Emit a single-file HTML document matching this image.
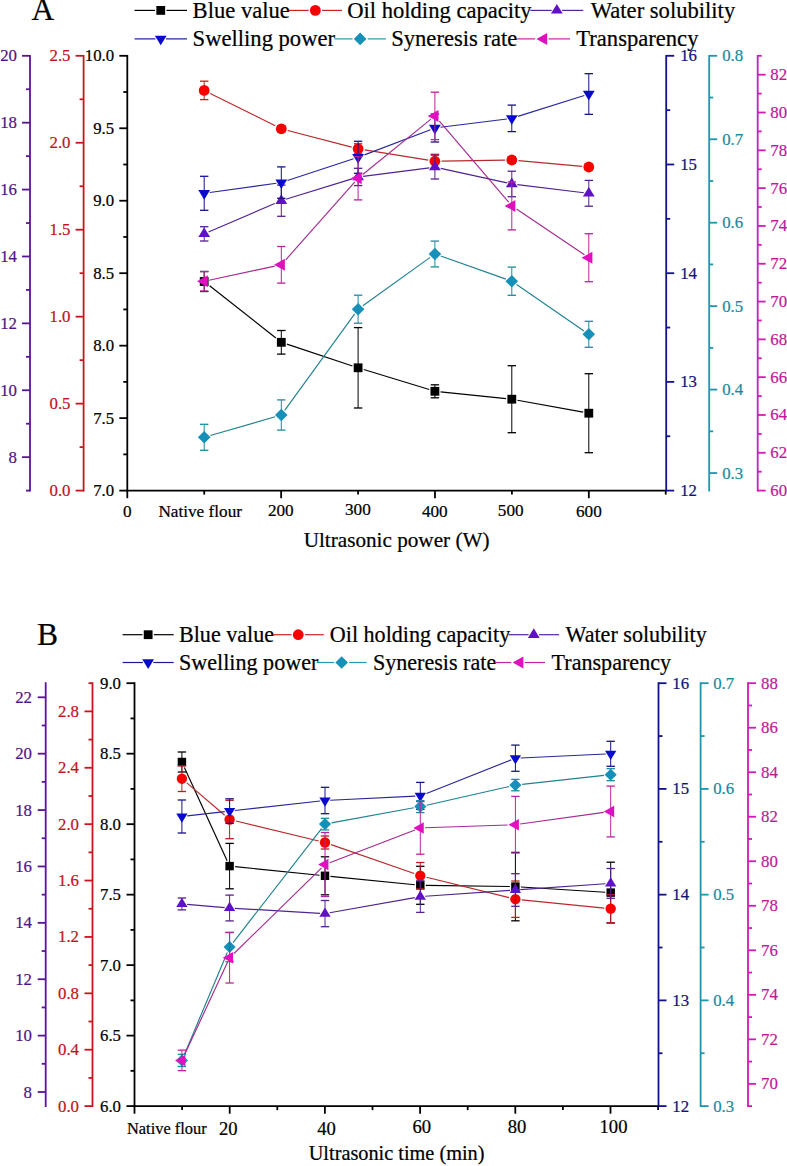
<!DOCTYPE html>
<html><head><meta charset="utf-8"><style>
html,body{margin:0;padding:0;background:#fff;width:787px;height:1166px;overflow:hidden;position:relative;}
text{font-family:"Liberation Serif",serif;}
</style></head><body>
<svg width="787" height="1166" viewBox="0 0 787 1166" style="position:absolute;left:0;top:0">
<g style='font-family:"Liberation Serif", serif'>
<line x1="126.40" y1="490.60" x2="666.64" y2="490.60" stroke="#000" stroke-width="1.8"/>
<line x1="127.30" y1="490.60" x2="127.30" y2="498.20" stroke="#000" stroke-width="1.8"/>
<line x1="281.14" y1="490.60" x2="281.14" y2="498.20" stroke="#000" stroke-width="1.8"/>
<line x1="434.98" y1="490.60" x2="434.98" y2="498.20" stroke="#000" stroke-width="1.8"/>
<line x1="588.82" y1="490.60" x2="588.82" y2="498.20" stroke="#000" stroke-width="1.8"/>
<line x1="204.22" y1="490.60" x2="204.22" y2="494.60" stroke="#000" stroke-width="1.8"/>
<line x1="358.06" y1="490.60" x2="358.06" y2="494.60" stroke="#000" stroke-width="1.8"/>
<line x1="511.90" y1="490.60" x2="511.90" y2="494.60" stroke="#000" stroke-width="1.8"/>
<line x1="665.74" y1="490.60" x2="665.74" y2="494.60" stroke="#000" stroke-width="1.8"/>
<text x="127.40" y="517.20" fill="#000" stroke="#000" stroke-width="0.22" font-size="17.2" text-anchor="middle" >0</text>
<text x="280.80" y="516.40" fill="#000" stroke="#000" stroke-width="0.22" font-size="17.2" text-anchor="middle" >200</text>
<text x="357.90" y="514.70" fill="#000" stroke="#000" stroke-width="0.22" font-size="17.2" text-anchor="middle" >300</text>
<text x="434.80" y="516.80" fill="#000" stroke="#000" stroke-width="0.22" font-size="17.2" text-anchor="middle" >400</text>
<text x="510.70" y="516.20" fill="#000" stroke="#000" stroke-width="0.22" font-size="17.2" text-anchor="middle" >500</text>
<text x="588.90" y="516.80" fill="#000" stroke="#000" stroke-width="0.22" font-size="17.2" text-anchor="middle" >600</text>
<text x="200.20" y="517.10" fill="#000" stroke="#000" stroke-width="0.22" font-size="17.2" text-anchor="middle" >Native flour</text>
<text x="396.60" y="547.30" fill="#000" stroke="#000" stroke-width="0.22" font-size="21.2" text-anchor="middle" >Ultrasonic power (W)</text>
<line x1="127.30" y1="54.90" x2="127.30" y2="491.50" stroke="#000000" stroke-width="1.8"/>
<line x1="127.30" y1="490.60" x2="119.30" y2="490.60" stroke="#000000" stroke-width="1.8"/>
<line x1="127.30" y1="418.13" x2="119.30" y2="418.13" stroke="#000000" stroke-width="1.8"/>
<line x1="127.30" y1="345.67" x2="119.30" y2="345.67" stroke="#000000" stroke-width="1.8"/>
<line x1="127.30" y1="273.20" x2="119.30" y2="273.20" stroke="#000000" stroke-width="1.8"/>
<line x1="127.30" y1="200.73" x2="119.30" y2="200.73" stroke="#000000" stroke-width="1.8"/>
<line x1="127.30" y1="128.27" x2="119.30" y2="128.27" stroke="#000000" stroke-width="1.8"/>
<line x1="127.30" y1="55.80" x2="119.30" y2="55.80" stroke="#000000" stroke-width="1.8"/>
<line x1="127.30" y1="454.37" x2="123.30" y2="454.37" stroke="#000000" stroke-width="1.8"/>
<line x1="127.30" y1="381.90" x2="123.30" y2="381.90" stroke="#000000" stroke-width="1.8"/>
<line x1="127.30" y1="309.43" x2="123.30" y2="309.43" stroke="#000000" stroke-width="1.8"/>
<line x1="127.30" y1="236.97" x2="123.30" y2="236.97" stroke="#000000" stroke-width="1.8"/>
<line x1="127.30" y1="164.50" x2="123.30" y2="164.50" stroke="#000000" stroke-width="1.8"/>
<line x1="127.30" y1="92.03" x2="123.30" y2="92.03" stroke="#000000" stroke-width="1.8"/>
<text x="114.20" y="496.10" fill="#000000" stroke="#000000" stroke-width="0.22" font-size="16.8" text-anchor="end" >7.0</text>
<text x="114.20" y="423.63" fill="#000000" stroke="#000000" stroke-width="0.22" font-size="16.8" text-anchor="end" >7.5</text>
<text x="114.20" y="351.17" fill="#000000" stroke="#000000" stroke-width="0.22" font-size="16.8" text-anchor="end" >8.0</text>
<text x="114.20" y="278.70" fill="#000000" stroke="#000000" stroke-width="0.22" font-size="16.8" text-anchor="end" >8.5</text>
<text x="114.20" y="206.23" fill="#000000" stroke="#000000" stroke-width="0.22" font-size="16.8" text-anchor="end" >9.0</text>
<text x="114.20" y="133.77" fill="#000000" stroke="#000000" stroke-width="0.22" font-size="16.8" text-anchor="end" >9.5</text>
<text x="114.20" y="61.30" fill="#000000" stroke="#000000" stroke-width="0.22" font-size="16.8" text-anchor="end" >10.0</text>
<line x1="83.60" y1="54.90" x2="83.60" y2="491.50" stroke="#c8161e" stroke-width="1.8"/>
<line x1="83.60" y1="490.60" x2="75.60" y2="490.60" stroke="#c8161e" stroke-width="1.8"/>
<line x1="83.60" y1="403.64" x2="75.60" y2="403.64" stroke="#c8161e" stroke-width="1.8"/>
<line x1="83.60" y1="316.68" x2="75.60" y2="316.68" stroke="#c8161e" stroke-width="1.8"/>
<line x1="83.60" y1="229.72" x2="75.60" y2="229.72" stroke="#c8161e" stroke-width="1.8"/>
<line x1="83.60" y1="142.76" x2="75.60" y2="142.76" stroke="#c8161e" stroke-width="1.8"/>
<line x1="83.60" y1="55.80" x2="75.60" y2="55.80" stroke="#c8161e" stroke-width="1.8"/>
<line x1="83.60" y1="447.12" x2="79.60" y2="447.12" stroke="#c8161e" stroke-width="1.8"/>
<line x1="83.60" y1="360.16" x2="79.60" y2="360.16" stroke="#c8161e" stroke-width="1.8"/>
<line x1="83.60" y1="273.20" x2="79.60" y2="273.20" stroke="#c8161e" stroke-width="1.8"/>
<line x1="83.60" y1="186.24" x2="79.60" y2="186.24" stroke="#c8161e" stroke-width="1.8"/>
<line x1="83.60" y1="99.28" x2="79.60" y2="99.28" stroke="#c8161e" stroke-width="1.8"/>
<text x="70.50" y="496.10" fill="#bd1420" stroke="#bd1420" stroke-width="0.22" font-size="16.8" text-anchor="end" >0.0</text>
<text x="70.50" y="409.14" fill="#bd1420" stroke="#bd1420" stroke-width="0.22" font-size="16.8" text-anchor="end" >0.5</text>
<text x="70.50" y="322.18" fill="#bd1420" stroke="#bd1420" stroke-width="0.22" font-size="16.8" text-anchor="end" >1.0</text>
<text x="70.50" y="235.22" fill="#bd1420" stroke="#bd1420" stroke-width="0.22" font-size="16.8" text-anchor="end" >1.5</text>
<text x="70.50" y="148.26" fill="#bd1420" stroke="#bd1420" stroke-width="0.22" font-size="16.8" text-anchor="end" >2.0</text>
<text x="70.50" y="61.30" fill="#bd1420" stroke="#bd1420" stroke-width="0.22" font-size="16.8" text-anchor="end" >2.5</text>
<line x1="30.00" y1="54.90" x2="30.00" y2="491.50" stroke="#5a1496" stroke-width="1.8"/>
<line x1="30.00" y1="457.15" x2="22.00" y2="457.15" stroke="#5a1496" stroke-width="1.8"/>
<line x1="30.00" y1="390.26" x2="22.00" y2="390.26" stroke="#5a1496" stroke-width="1.8"/>
<line x1="30.00" y1="323.37" x2="22.00" y2="323.37" stroke="#5a1496" stroke-width="1.8"/>
<line x1="30.00" y1="256.48" x2="22.00" y2="256.48" stroke="#5a1496" stroke-width="1.8"/>
<line x1="30.00" y1="189.58" x2="22.00" y2="189.58" stroke="#5a1496" stroke-width="1.8"/>
<line x1="30.00" y1="122.69" x2="22.00" y2="122.69" stroke="#5a1496" stroke-width="1.8"/>
<line x1="30.00" y1="55.80" x2="22.00" y2="55.80" stroke="#5a1496" stroke-width="1.8"/>
<line x1="30.00" y1="490.60" x2="26.00" y2="490.60" stroke="#5a1496" stroke-width="1.8"/>
<line x1="30.00" y1="423.71" x2="26.00" y2="423.71" stroke="#5a1496" stroke-width="1.8"/>
<line x1="30.00" y1="356.82" x2="26.00" y2="356.82" stroke="#5a1496" stroke-width="1.8"/>
<line x1="30.00" y1="289.92" x2="26.00" y2="289.92" stroke="#5a1496" stroke-width="1.8"/>
<line x1="30.00" y1="223.03" x2="26.00" y2="223.03" stroke="#5a1496" stroke-width="1.8"/>
<line x1="30.00" y1="156.14" x2="26.00" y2="156.14" stroke="#5a1496" stroke-width="1.8"/>
<line x1="30.00" y1="89.25" x2="26.00" y2="89.25" stroke="#5a1496" stroke-width="1.8"/>
<text x="17.00" y="462.65" fill="#501488" stroke="#501488" stroke-width="0.22" font-size="16.8" text-anchor="end" >8</text>
<text x="17.00" y="395.76" fill="#501488" stroke="#501488" stroke-width="0.22" font-size="16.8" text-anchor="end" >10</text>
<text x="17.00" y="328.87" fill="#501488" stroke="#501488" stroke-width="0.22" font-size="16.8" text-anchor="end" >12</text>
<text x="17.00" y="261.98" fill="#501488" stroke="#501488" stroke-width="0.22" font-size="16.8" text-anchor="end" >14</text>
<text x="17.00" y="195.08" fill="#501488" stroke="#501488" stroke-width="0.22" font-size="16.8" text-anchor="end" >16</text>
<text x="17.00" y="128.19" fill="#501488" stroke="#501488" stroke-width="0.22" font-size="16.8" text-anchor="end" >18</text>
<text x="17.00" y="61.30" fill="#501488" stroke="#501488" stroke-width="0.22" font-size="16.8" text-anchor="end" >20</text>
<line x1="666.20" y1="54.90" x2="666.20" y2="491.50" stroke="#12128e" stroke-width="1.8"/>
<line x1="666.20" y1="490.60" x2="674.20" y2="490.60" stroke="#12128e" stroke-width="1.8"/>
<line x1="666.20" y1="381.90" x2="674.20" y2="381.90" stroke="#12128e" stroke-width="1.8"/>
<line x1="666.20" y1="273.20" x2="674.20" y2="273.20" stroke="#12128e" stroke-width="1.8"/>
<line x1="666.20" y1="164.50" x2="674.20" y2="164.50" stroke="#12128e" stroke-width="1.8"/>
<line x1="666.20" y1="55.80" x2="674.20" y2="55.80" stroke="#12128e" stroke-width="1.8"/>
<line x1="666.20" y1="436.25" x2="670.20" y2="436.25" stroke="#12128e" stroke-width="1.8"/>
<line x1="666.20" y1="327.55" x2="670.20" y2="327.55" stroke="#12128e" stroke-width="1.8"/>
<line x1="666.20" y1="218.85" x2="670.20" y2="218.85" stroke="#12128e" stroke-width="1.8"/>
<line x1="666.20" y1="110.15" x2="670.20" y2="110.15" stroke="#12128e" stroke-width="1.8"/>
<text x="680.20" y="496.10" fill="#12127c" stroke="#12127c" stroke-width="0.22" font-size="16.8" text-anchor="start" >12</text>
<text x="680.20" y="387.40" fill="#12127c" stroke="#12127c" stroke-width="0.22" font-size="16.8" text-anchor="start" >13</text>
<text x="680.20" y="278.70" fill="#12127c" stroke="#12127c" stroke-width="0.22" font-size="16.8" text-anchor="start" >14</text>
<text x="680.20" y="170.00" fill="#12127c" stroke="#12127c" stroke-width="0.22" font-size="16.8" text-anchor="start" >15</text>
<text x="680.20" y="61.30" fill="#12127c" stroke="#12127c" stroke-width="0.22" font-size="16.8" text-anchor="start" >16</text>
<line x1="709.20" y1="54.90" x2="709.20" y2="491.50" stroke="#1a98ad" stroke-width="1.8"/>
<line x1="709.20" y1="473.05" x2="717.20" y2="473.05" stroke="#1a98ad" stroke-width="1.8"/>
<line x1="709.20" y1="389.60" x2="717.20" y2="389.60" stroke="#1a98ad" stroke-width="1.8"/>
<line x1="709.20" y1="306.15" x2="717.20" y2="306.15" stroke="#1a98ad" stroke-width="1.8"/>
<line x1="709.20" y1="222.70" x2="717.20" y2="222.70" stroke="#1a98ad" stroke-width="1.8"/>
<line x1="709.20" y1="139.25" x2="717.20" y2="139.25" stroke="#1a98ad" stroke-width="1.8"/>
<line x1="709.20" y1="55.80" x2="717.20" y2="55.80" stroke="#1a98ad" stroke-width="1.8"/>
<line x1="709.20" y1="431.33" x2="713.20" y2="431.33" stroke="#1a98ad" stroke-width="1.8"/>
<line x1="709.20" y1="347.88" x2="713.20" y2="347.88" stroke="#1a98ad" stroke-width="1.8"/>
<line x1="709.20" y1="264.43" x2="713.20" y2="264.43" stroke="#1a98ad" stroke-width="1.8"/>
<line x1="709.20" y1="180.98" x2="713.20" y2="180.98" stroke="#1a98ad" stroke-width="1.8"/>
<line x1="709.20" y1="97.53" x2="713.20" y2="97.53" stroke="#1a98ad" stroke-width="1.8"/>
<text x="722.20" y="478.55" fill="#188a9c" stroke="#188a9c" stroke-width="0.22" font-size="16.8" text-anchor="start" >0.3</text>
<text x="722.20" y="395.10" fill="#188a9c" stroke="#188a9c" stroke-width="0.22" font-size="16.8" text-anchor="start" >0.4</text>
<text x="722.20" y="311.65" fill="#188a9c" stroke="#188a9c" stroke-width="0.22" font-size="16.8" text-anchor="start" >0.5</text>
<text x="722.20" y="228.20" fill="#188a9c" stroke="#188a9c" stroke-width="0.22" font-size="16.8" text-anchor="start" >0.6</text>
<text x="722.20" y="144.75" fill="#188a9c" stroke="#188a9c" stroke-width="0.22" font-size="16.8" text-anchor="start" >0.7</text>
<text x="722.20" y="61.30" fill="#188a9c" stroke="#188a9c" stroke-width="0.22" font-size="16.8" text-anchor="start" >0.8</text>
<line x1="757.70" y1="54.90" x2="757.70" y2="491.50" stroke="#d21ab4" stroke-width="1.8"/>
<line x1="757.70" y1="490.60" x2="765.70" y2="490.60" stroke="#d21ab4" stroke-width="1.8"/>
<line x1="757.70" y1="452.79" x2="765.70" y2="452.79" stroke="#d21ab4" stroke-width="1.8"/>
<line x1="757.70" y1="414.98" x2="765.70" y2="414.98" stroke="#d21ab4" stroke-width="1.8"/>
<line x1="757.70" y1="377.17" x2="765.70" y2="377.17" stroke="#d21ab4" stroke-width="1.8"/>
<line x1="757.70" y1="339.37" x2="765.70" y2="339.37" stroke="#d21ab4" stroke-width="1.8"/>
<line x1="757.70" y1="301.56" x2="765.70" y2="301.56" stroke="#d21ab4" stroke-width="1.8"/>
<line x1="757.70" y1="263.75" x2="765.70" y2="263.75" stroke="#d21ab4" stroke-width="1.8"/>
<line x1="757.70" y1="225.94" x2="765.70" y2="225.94" stroke="#d21ab4" stroke-width="1.8"/>
<line x1="757.70" y1="188.13" x2="765.70" y2="188.13" stroke="#d21ab4" stroke-width="1.8"/>
<line x1="757.70" y1="150.32" x2="765.70" y2="150.32" stroke="#d21ab4" stroke-width="1.8"/>
<line x1="757.70" y1="112.51" x2="765.70" y2="112.51" stroke="#d21ab4" stroke-width="1.8"/>
<line x1="757.70" y1="74.70" x2="765.70" y2="74.70" stroke="#d21ab4" stroke-width="1.8"/>
<line x1="757.70" y1="471.70" x2="761.70" y2="471.70" stroke="#d21ab4" stroke-width="1.8"/>
<line x1="757.70" y1="433.89" x2="761.70" y2="433.89" stroke="#d21ab4" stroke-width="1.8"/>
<line x1="757.70" y1="396.08" x2="761.70" y2="396.08" stroke="#d21ab4" stroke-width="1.8"/>
<line x1="757.70" y1="358.27" x2="761.70" y2="358.27" stroke="#d21ab4" stroke-width="1.8"/>
<line x1="757.70" y1="320.46" x2="761.70" y2="320.46" stroke="#d21ab4" stroke-width="1.8"/>
<line x1="757.70" y1="282.65" x2="761.70" y2="282.65" stroke="#d21ab4" stroke-width="1.8"/>
<line x1="757.70" y1="244.84" x2="761.70" y2="244.84" stroke="#d21ab4" stroke-width="1.8"/>
<line x1="757.70" y1="207.03" x2="761.70" y2="207.03" stroke="#d21ab4" stroke-width="1.8"/>
<line x1="757.70" y1="169.23" x2="761.70" y2="169.23" stroke="#d21ab4" stroke-width="1.8"/>
<line x1="757.70" y1="131.42" x2="761.70" y2="131.42" stroke="#d21ab4" stroke-width="1.8"/>
<line x1="757.70" y1="93.61" x2="761.70" y2="93.61" stroke="#d21ab4" stroke-width="1.8"/>
<line x1="757.70" y1="55.80" x2="761.70" y2="55.80" stroke="#d21ab4" stroke-width="1.8"/>
<text x="770.30" y="496.10" fill="#c0189a" stroke="#c0189a" stroke-width="0.22" font-size="16.8" text-anchor="start" >60</text>
<text x="770.30" y="458.29" fill="#c0189a" stroke="#c0189a" stroke-width="0.22" font-size="16.8" text-anchor="start" >62</text>
<text x="770.30" y="420.48" fill="#c0189a" stroke="#c0189a" stroke-width="0.22" font-size="16.8" text-anchor="start" >64</text>
<text x="770.30" y="382.67" fill="#c0189a" stroke="#c0189a" stroke-width="0.22" font-size="16.8" text-anchor="start" >66</text>
<text x="770.30" y="344.87" fill="#c0189a" stroke="#c0189a" stroke-width="0.22" font-size="16.8" text-anchor="start" >68</text>
<text x="770.30" y="307.06" fill="#c0189a" stroke="#c0189a" stroke-width="0.22" font-size="16.8" text-anchor="start" >70</text>
<text x="770.30" y="269.25" fill="#c0189a" stroke="#c0189a" stroke-width="0.22" font-size="16.8" text-anchor="start" >72</text>
<text x="770.30" y="231.44" fill="#c0189a" stroke="#c0189a" stroke-width="0.22" font-size="16.8" text-anchor="start" >74</text>
<text x="770.30" y="193.63" fill="#c0189a" stroke="#c0189a" stroke-width="0.22" font-size="16.8" text-anchor="start" >76</text>
<text x="770.30" y="155.82" fill="#c0189a" stroke="#c0189a" stroke-width="0.22" font-size="16.8" text-anchor="start" >78</text>
<text x="770.30" y="118.01" fill="#c0189a" stroke="#c0189a" stroke-width="0.22" font-size="16.8" text-anchor="start" >80</text>
<text x="770.30" y="80.20" fill="#c0189a" stroke="#c0189a" stroke-width="0.22" font-size="16.8" text-anchor="start" >82</text>
<line x1="209.62" y1="285.77" x2="275.88" y2="338.03" stroke="#000000" stroke-width="1.15"/>
<line x1="286.93" y1="344.17" x2="352.47" y2="365.93" stroke="#000000" stroke-width="1.15"/>
<line x1="363.74" y1="369.53" x2="429.26" y2="389.57" stroke="#000000" stroke-width="1.15"/>
<line x1="440.59" y1="391.88" x2="506.11" y2="398.62" stroke="#000000" stroke-width="1.15"/>
<line x1="517.48" y1="400.23" x2="583.12" y2="412.17" stroke="#000000" stroke-width="1.15"/>
<line x1="204.20" y1="271.50" x2="204.20" y2="291.50" stroke="#000000" stroke-width="1.0"/>
<line x1="200.00" y1="271.50" x2="208.40" y2="271.50" stroke="#000000" stroke-width="1.3"/>
<line x1="200.00" y1="291.50" x2="208.40" y2="291.50" stroke="#000000" stroke-width="1.3"/>
<line x1="281.30" y1="330.50" x2="281.30" y2="354.10" stroke="#000000" stroke-width="1.0"/>
<line x1="277.10" y1="330.50" x2="285.50" y2="330.50" stroke="#000000" stroke-width="1.3"/>
<line x1="277.10" y1="354.10" x2="285.50" y2="354.10" stroke="#000000" stroke-width="1.3"/>
<line x1="358.10" y1="327.60" x2="358.10" y2="408.00" stroke="#000000" stroke-width="1.0"/>
<line x1="353.90" y1="327.60" x2="362.30" y2="327.60" stroke="#000000" stroke-width="1.3"/>
<line x1="353.90" y1="408.00" x2="362.30" y2="408.00" stroke="#000000" stroke-width="1.3"/>
<line x1="434.90" y1="384.80" x2="434.90" y2="397.80" stroke="#000000" stroke-width="1.0"/>
<line x1="430.70" y1="384.80" x2="439.10" y2="384.80" stroke="#000000" stroke-width="1.3"/>
<line x1="430.70" y1="397.80" x2="439.10" y2="397.80" stroke="#000000" stroke-width="1.3"/>
<line x1="511.80" y1="365.70" x2="511.80" y2="432.70" stroke="#000000" stroke-width="1.0"/>
<line x1="507.60" y1="365.70" x2="516.00" y2="365.70" stroke="#000000" stroke-width="1.3"/>
<line x1="507.60" y1="432.70" x2="516.00" y2="432.70" stroke="#000000" stroke-width="1.3"/>
<line x1="588.80" y1="373.70" x2="588.80" y2="452.70" stroke="#000000" stroke-width="1.0"/>
<line x1="584.60" y1="373.70" x2="593.00" y2="373.70" stroke="#000000" stroke-width="1.3"/>
<line x1="584.60" y1="452.70" x2="593.00" y2="452.70" stroke="#000000" stroke-width="1.3"/>
<rect x="199.80" y="277.10" width="8.80" height="8.80" fill="#000000"/>
<rect x="276.90" y="337.90" width="8.80" height="8.80" fill="#000000"/>
<rect x="353.70" y="363.40" width="8.80" height="8.80" fill="#000000"/>
<rect x="430.50" y="386.90" width="8.80" height="8.80" fill="#000000"/>
<rect x="507.40" y="394.80" width="8.80" height="8.80" fill="#000000"/>
<rect x="584.40" y="408.80" width="8.80" height="8.80" fill="#000000"/>
<line x1="210.20" y1="93.39" x2="275.30" y2="125.81" stroke="#b82a2a" stroke-width="1.15"/>
<line x1="287.78" y1="130.49" x2="351.62" y2="147.11" stroke="#b82a2a" stroke-width="1.15"/>
<line x1="364.71" y1="149.87" x2="428.29" y2="160.13" stroke="#b82a2a" stroke-width="1.15"/>
<line x1="441.60" y1="161.10" x2="505.10" y2="160.10" stroke="#b82a2a" stroke-width="1.15"/>
<line x1="518.47" y1="160.61" x2="582.13" y2="166.39" stroke="#b82a2a" stroke-width="1.15"/>
<line x1="204.20" y1="81.20" x2="204.20" y2="99.60" stroke="#c01a22" stroke-width="1.0"/>
<line x1="200.00" y1="81.20" x2="208.40" y2="81.20" stroke="#c01a22" stroke-width="1.3"/>
<line x1="200.00" y1="99.60" x2="208.40" y2="99.60" stroke="#c01a22" stroke-width="1.3"/>
<line x1="281.30" y1="125.80" x2="281.30" y2="131.80" stroke="#c01a22" stroke-width="1.0"/>
<line x1="277.10" y1="125.80" x2="285.50" y2="125.80" stroke="#c01a22" stroke-width="1.3"/>
<line x1="277.10" y1="131.80" x2="285.50" y2="131.80" stroke="#c01a22" stroke-width="1.3"/>
<line x1="358.10" y1="143.80" x2="358.10" y2="153.80" stroke="#c01a22" stroke-width="1.0"/>
<line x1="353.90" y1="143.80" x2="362.30" y2="143.80" stroke="#c01a22" stroke-width="1.3"/>
<line x1="353.90" y1="153.80" x2="362.30" y2="153.80" stroke="#c01a22" stroke-width="1.3"/>
<line x1="434.90" y1="154.30" x2="434.90" y2="168.10" stroke="#c01a22" stroke-width="1.0"/>
<line x1="430.70" y1="154.30" x2="439.10" y2="154.30" stroke="#c01a22" stroke-width="1.3"/>
<line x1="430.70" y1="168.10" x2="439.10" y2="168.10" stroke="#c01a22" stroke-width="1.3"/>
<line x1="511.80" y1="157.00" x2="511.80" y2="163.00" stroke="#c01a22" stroke-width="1.0"/>
<line x1="507.60" y1="157.00" x2="516.00" y2="157.00" stroke="#c01a22" stroke-width="1.3"/>
<line x1="507.60" y1="163.00" x2="516.00" y2="163.00" stroke="#c01a22" stroke-width="1.3"/>
<line x1="588.80" y1="164.00" x2="588.80" y2="170.00" stroke="#c01a22" stroke-width="1.0"/>
<line x1="584.60" y1="164.00" x2="593.00" y2="164.00" stroke="#c01a22" stroke-width="1.3"/>
<line x1="584.60" y1="170.00" x2="593.00" y2="170.00" stroke="#c01a22" stroke-width="1.3"/>
<circle cx="204.20" cy="90.40" r="5.40" fill="#f70000"/>
<circle cx="281.30" cy="128.80" r="5.40" fill="#f70000"/>
<circle cx="358.10" cy="148.80" r="5.40" fill="#f70000"/>
<circle cx="434.90" cy="161.20" r="5.40" fill="#f70000"/>
<circle cx="511.80" cy="160.00" r="5.40" fill="#f70000"/>
<circle cx="588.80" cy="167.00" r="5.40" fill="#f70000"/>
<line x1="208.51" y1="232.00" x2="274.76" y2="203.51" stroke="#4e2490" stroke-width="1.15"/>
<line x1="285.85" y1="199.29" x2="352.00" y2="178.84" stroke="#4e2490" stroke-width="1.15"/>
<line x1="363.04" y1="176.32" x2="429.34" y2="167.81" stroke="#4e2490" stroke-width="1.15"/>
<line x1="440.72" y1="168.37" x2="507.06" y2="182.91" stroke="#4e2490" stroke-width="1.15"/>
<line x1="517.34" y1="184.62" x2="583.85" y2="192.70" stroke="#4e2490" stroke-width="1.15"/>
<line x1="204.20" y1="226.70" x2="204.20" y2="241.00" stroke="#552090" stroke-width="1.0"/>
<line x1="200.00" y1="226.70" x2="208.40" y2="226.70" stroke="#552090" stroke-width="1.3"/>
<line x1="200.00" y1="241.00" x2="208.40" y2="241.00" stroke="#552090" stroke-width="1.3"/>
<line x1="281.30" y1="185.10" x2="281.30" y2="216.30" stroke="#552090" stroke-width="1.0"/>
<line x1="277.10" y1="185.10" x2="285.50" y2="185.10" stroke="#552090" stroke-width="1.3"/>
<line x1="277.10" y1="216.30" x2="285.50" y2="216.30" stroke="#552090" stroke-width="1.3"/>
<line x1="358.10" y1="168.30" x2="358.10" y2="185.60" stroke="#552090" stroke-width="1.0"/>
<line x1="353.90" y1="168.30" x2="362.30" y2="168.30" stroke="#552090" stroke-width="1.3"/>
<line x1="353.90" y1="185.60" x2="362.30" y2="185.60" stroke="#552090" stroke-width="1.3"/>
<line x1="434.90" y1="155.20" x2="434.90" y2="179.00" stroke="#552090" stroke-width="1.0"/>
<line x1="430.70" y1="155.20" x2="439.10" y2="155.20" stroke="#552090" stroke-width="1.3"/>
<line x1="430.70" y1="179.00" x2="439.10" y2="179.00" stroke="#552090" stroke-width="1.3"/>
<line x1="511.80" y1="171.20" x2="511.80" y2="196.70" stroke="#552090" stroke-width="1.0"/>
<line x1="507.60" y1="171.20" x2="516.00" y2="171.20" stroke="#552090" stroke-width="1.3"/>
<line x1="507.60" y1="196.70" x2="516.00" y2="196.70" stroke="#552090" stroke-width="1.3"/>
<line x1="588.80" y1="180.40" x2="588.80" y2="206.20" stroke="#552090" stroke-width="1.0"/>
<line x1="584.60" y1="180.40" x2="593.00" y2="180.40" stroke="#552090" stroke-width="1.3"/>
<line x1="584.60" y1="206.20" x2="593.00" y2="206.20" stroke="#552090" stroke-width="1.3"/>
<polygon points="204.20,227.45 210.10,237.05 198.30,237.05" fill="#6010c8"/>
<polygon points="281.30,194.30 287.20,203.90 275.40,203.90" fill="#6010c8"/>
<polygon points="358.10,170.55 364.00,180.15 352.20,180.15" fill="#6010c8"/>
<polygon points="434.90,160.70 440.80,170.30 429.00,170.30" fill="#6010c8"/>
<polygon points="511.80,177.55 517.70,187.15 505.90,187.15" fill="#6010c8"/>
<polygon points="588.80,186.90 594.70,196.50 582.90,196.50" fill="#6010c8"/>
<line x1="209.79" y1="192.52" x2="276.39" y2="183.28" stroke="#28289a" stroke-width="1.15"/>
<line x1="287.47" y1="180.57" x2="353.59" y2="158.78" stroke="#28289a" stroke-width="1.15"/>
<line x1="364.45" y1="154.88" x2="430.50" y2="129.68" stroke="#28289a" stroke-width="1.15"/>
<line x1="440.45" y1="127.30" x2="506.86" y2="118.97" stroke="#28289a" stroke-width="1.15"/>
<line x1="517.92" y1="116.41" x2="584.27" y2="95.43" stroke="#28289a" stroke-width="1.15"/>
<line x1="204.20" y1="176.30" x2="204.20" y2="210.30" stroke="#14148a" stroke-width="1.0"/>
<line x1="200.00" y1="176.30" x2="208.40" y2="176.30" stroke="#14148a" stroke-width="1.3"/>
<line x1="200.00" y1="210.30" x2="208.40" y2="210.30" stroke="#14148a" stroke-width="1.3"/>
<line x1="281.30" y1="166.90" x2="281.30" y2="198.30" stroke="#14148a" stroke-width="1.0"/>
<line x1="277.10" y1="166.90" x2="285.50" y2="166.90" stroke="#14148a" stroke-width="1.3"/>
<line x1="277.10" y1="198.30" x2="285.50" y2="198.30" stroke="#14148a" stroke-width="1.3"/>
<line x1="358.10" y1="141.30" x2="358.10" y2="173.30" stroke="#14148a" stroke-width="1.0"/>
<line x1="353.90" y1="141.30" x2="362.30" y2="141.30" stroke="#14148a" stroke-width="1.3"/>
<line x1="353.90" y1="173.30" x2="362.30" y2="173.30" stroke="#14148a" stroke-width="1.3"/>
<line x1="434.90" y1="114.00" x2="434.90" y2="142.00" stroke="#14148a" stroke-width="1.0"/>
<line x1="430.70" y1="114.00" x2="439.10" y2="114.00" stroke="#14148a" stroke-width="1.3"/>
<line x1="430.70" y1="142.00" x2="439.10" y2="142.00" stroke="#14148a" stroke-width="1.3"/>
<line x1="511.80" y1="105.10" x2="511.80" y2="131.60" stroke="#14148a" stroke-width="1.0"/>
<line x1="507.60" y1="105.10" x2="516.00" y2="105.10" stroke="#14148a" stroke-width="1.3"/>
<line x1="507.60" y1="131.60" x2="516.00" y2="131.60" stroke="#14148a" stroke-width="1.3"/>
<line x1="588.80" y1="73.65" x2="588.80" y2="114.35" stroke="#14148a" stroke-width="1.0"/>
<line x1="584.60" y1="73.65" x2="593.00" y2="73.65" stroke="#14148a" stroke-width="1.3"/>
<line x1="584.60" y1="114.35" x2="593.00" y2="114.35" stroke="#14148a" stroke-width="1.3"/>
<polygon points="198.30,190.10 210.10,190.10 204.20,199.70" fill="#0a0acc"/>
<polygon points="275.40,179.40 287.20,179.40 281.30,189.00" fill="#0a0acc"/>
<polygon points="352.20,154.10 364.00,154.10 358.10,163.70" fill="#0a0acc"/>
<polygon points="429.00,124.80 440.80,124.80 434.90,134.40" fill="#0a0acc"/>
<polygon points="505.90,115.15 517.70,115.15 511.80,124.75" fill="#0a0acc"/>
<polygon points="582.90,90.80 594.70,90.80 588.80,100.40" fill="#0a0acc"/>
<line x1="210.34" y1="435.53" x2="275.16" y2="416.77" stroke="#1f8290" stroke-width="1.15"/>
<line x1="284.71" y1="410.30" x2="354.69" y2="313.90" stroke="#1f8290" stroke-width="1.15"/>
<line x1="362.82" y1="305.81" x2="430.18" y2="257.39" stroke="#1f8290" stroke-width="1.15"/>
<line x1="440.78" y1="256.08" x2="505.92" y2="279.12" stroke="#1f8290" stroke-width="1.15"/>
<line x1="516.60" y1="284.51" x2="584.00" y2="330.99" stroke="#1f8290" stroke-width="1.15"/>
<line x1="204.20" y1="424.30" x2="204.20" y2="450.30" stroke="#1c8c9e" stroke-width="1.0"/>
<line x1="200.00" y1="424.30" x2="208.40" y2="424.30" stroke="#1c8c9e" stroke-width="1.3"/>
<line x1="200.00" y1="450.30" x2="208.40" y2="450.30" stroke="#1c8c9e" stroke-width="1.3"/>
<line x1="281.30" y1="399.90" x2="281.30" y2="430.10" stroke="#1c8c9e" stroke-width="1.0"/>
<line x1="277.10" y1="399.90" x2="285.50" y2="399.90" stroke="#1c8c9e" stroke-width="1.3"/>
<line x1="277.10" y1="430.10" x2="285.50" y2="430.10" stroke="#1c8c9e" stroke-width="1.3"/>
<line x1="358.10" y1="295.20" x2="358.10" y2="323.20" stroke="#1c8c9e" stroke-width="1.0"/>
<line x1="353.90" y1="295.20" x2="362.30" y2="295.20" stroke="#1c8c9e" stroke-width="1.3"/>
<line x1="353.90" y1="323.20" x2="362.30" y2="323.20" stroke="#1c8c9e" stroke-width="1.3"/>
<line x1="434.90" y1="241.10" x2="434.90" y2="266.90" stroke="#1c8c9e" stroke-width="1.0"/>
<line x1="430.70" y1="241.10" x2="439.10" y2="241.10" stroke="#1c8c9e" stroke-width="1.3"/>
<line x1="430.70" y1="266.90" x2="439.10" y2="266.90" stroke="#1c8c9e" stroke-width="1.3"/>
<line x1="511.80" y1="267.10" x2="511.80" y2="295.30" stroke="#1c8c9e" stroke-width="1.0"/>
<line x1="507.60" y1="267.10" x2="516.00" y2="267.10" stroke="#1c8c9e" stroke-width="1.3"/>
<line x1="507.60" y1="295.30" x2="516.00" y2="295.30" stroke="#1c8c9e" stroke-width="1.3"/>
<line x1="588.80" y1="321.30" x2="588.80" y2="347.30" stroke="#1c8c9e" stroke-width="1.0"/>
<line x1="584.60" y1="321.30" x2="593.00" y2="321.30" stroke="#1c8c9e" stroke-width="1.3"/>
<line x1="584.60" y1="347.30" x2="593.00" y2="347.30" stroke="#1c8c9e" stroke-width="1.3"/>
<polygon points="204.20,431.00 210.50,437.30 204.20,443.60 197.90,437.30" fill="#1590b8"/>
<polygon points="281.30,408.70 287.60,415.00 281.30,421.30 275.00,415.00" fill="#1590b8"/>
<polygon points="358.10,302.90 364.40,309.20 358.10,315.50 351.80,309.20" fill="#1590b8"/>
<polygon points="434.90,247.70 441.20,254.00 434.90,260.30 428.60,254.00" fill="#1590b8"/>
<polygon points="511.80,274.90 518.10,281.20 511.80,287.50 505.50,281.20" fill="#1590b8"/>
<polygon points="588.80,328.00 595.10,334.30 588.80,340.60 582.50,334.30" fill="#1590b8"/>
<line x1="209.07" y1="280.26" x2="274.83" y2="266.18" stroke="#a42a92" stroke-width="1.15"/>
<line x1="285.76" y1="259.77" x2="354.86" y2="181.95" stroke="#a42a92" stroke-width="1.15"/>
<line x1="362.71" y1="174.56" x2="430.97" y2="119.10" stroke="#a42a92" stroke-width="1.15"/>
<line x1="439.34" y1="121.10" x2="508.64" y2="202.20" stroke="#a42a92" stroke-width="1.15"/>
<line x1="516.48" y1="209.05" x2="584.46" y2="254.78" stroke="#a42a92" stroke-width="1.15"/>
<line x1="204.20" y1="271.60" x2="204.20" y2="291.00" stroke="#b8249c" stroke-width="1.0"/>
<line x1="200.00" y1="271.60" x2="208.40" y2="271.60" stroke="#b8249c" stroke-width="1.3"/>
<line x1="200.00" y1="291.00" x2="208.40" y2="291.00" stroke="#b8249c" stroke-width="1.3"/>
<line x1="281.30" y1="246.50" x2="281.30" y2="283.10" stroke="#b8249c" stroke-width="1.0"/>
<line x1="277.10" y1="246.50" x2="285.50" y2="246.50" stroke="#b8249c" stroke-width="1.3"/>
<line x1="277.10" y1="283.10" x2="285.50" y2="283.10" stroke="#b8249c" stroke-width="1.3"/>
<line x1="358.10" y1="156.70" x2="358.10" y2="199.90" stroke="#b8249c" stroke-width="1.0"/>
<line x1="353.90" y1="156.70" x2="362.30" y2="156.70" stroke="#b8249c" stroke-width="1.3"/>
<line x1="353.90" y1="199.90" x2="362.30" y2="199.90" stroke="#b8249c" stroke-width="1.3"/>
<line x1="434.90" y1="92.20" x2="434.90" y2="139.60" stroke="#b8249c" stroke-width="1.0"/>
<line x1="430.70" y1="92.20" x2="439.10" y2="92.20" stroke="#b8249c" stroke-width="1.3"/>
<line x1="430.70" y1="139.60" x2="439.10" y2="139.60" stroke="#b8249c" stroke-width="1.3"/>
<line x1="511.80" y1="181.90" x2="511.80" y2="229.90" stroke="#b8249c" stroke-width="1.0"/>
<line x1="507.60" y1="181.90" x2="516.00" y2="181.90" stroke="#b8249c" stroke-width="1.3"/>
<line x1="507.60" y1="229.90" x2="516.00" y2="229.90" stroke="#b8249c" stroke-width="1.3"/>
<line x1="588.80" y1="233.70" x2="588.80" y2="281.70" stroke="#b8249c" stroke-width="1.0"/>
<line x1="584.60" y1="233.70" x2="593.00" y2="233.70" stroke="#b8249c" stroke-width="1.3"/>
<line x1="584.60" y1="281.70" x2="593.00" y2="281.70" stroke="#b8249c" stroke-width="1.3"/>
<polygon points="197.00,281.30 207.80,275.30 207.80,287.30" fill="#e010c0"/>
<polygon points="274.10,264.80 284.90,258.80 284.90,270.80" fill="#e010c0"/>
<polygon points="350.90,178.30 361.70,172.30 361.70,184.30" fill="#e010c0"/>
<polygon points="427.70,115.90 438.50,109.90 438.50,121.90" fill="#e010c0"/>
<polygon points="504.60,205.90 515.40,199.90 515.40,211.90" fill="#e010c0"/>
<polygon points="581.60,257.70 592.40,251.70 592.40,263.70" fill="#e010c0"/>
<text x="31.40" y="19.80" fill="#000" stroke="#000" stroke-width="0.22" font-size="31.5" text-anchor="start" >A</text>
<line x1="134.50" y1="10.40" x2="155.05" y2="10.40" stroke="#000000" stroke-width="1.2"/>
<line x1="166.45" y1="10.40" x2="187.00" y2="10.40" stroke="#000000" stroke-width="1.2"/>
<rect x="156.35" y="6.00" width="8.80" height="8.80" fill="#000000"/>
<text x="192.60" y="17.80" fill="#000" stroke="#000" stroke-width="0.22" font-size="22.6" text-anchor="start" >Blue value</text>
<line x1="288.70" y1="10.40" x2="308.65" y2="10.40" stroke="#cc2424" stroke-width="1.2"/>
<line x1="322.05" y1="10.40" x2="342.00" y2="10.40" stroke="#cc2424" stroke-width="1.2"/>
<circle cx="315.35" cy="10.40" r="5.40" fill="#f70000"/>
<text x="347.20" y="17.80" fill="#000" stroke="#000" stroke-width="0.22" font-size="22.6" text-anchor="start" >Oil holding capacity</text>
<line x1="530.40" y1="10.40" x2="551.62" y2="10.40" stroke="#5a229c" stroke-width="1.2"/>
<line x1="562.08" y1="10.40" x2="583.30" y2="10.40" stroke="#5a229c" stroke-width="1.2"/>
<polygon points="556.85,4.00 562.75,13.60 550.95,13.60" fill="#6010c8"/>
<text x="590.80" y="17.80" fill="#000" stroke="#000" stroke-width="0.22" font-size="22.6" text-anchor="start" >Water solubility</text>
<line x1="134.50" y1="38.90" x2="155.52" y2="38.90" stroke="#1c1c98" stroke-width="1.2"/>
<line x1="165.98" y1="38.90" x2="187.00" y2="38.90" stroke="#1c1c98" stroke-width="1.2"/>
<polygon points="154.85,35.70 166.65,35.70 160.75,45.30" fill="#0a0acc"/>
<text x="192.60" y="46.30" fill="#000" stroke="#000" stroke-width="0.22" font-size="22.6" text-anchor="start" >Swelling power</text>
<line x1="334.40" y1="38.90" x2="352.55" y2="38.90" stroke="#2298aa" stroke-width="1.2"/>
<line x1="367.75" y1="38.90" x2="385.90" y2="38.90" stroke="#2298aa" stroke-width="1.2"/>
<polygon points="360.15,32.60 366.45,38.90 360.15,45.20 353.85,38.90" fill="#1590b8"/>
<text x="391.20" y="46.30" fill="#000" stroke="#000" stroke-width="0.22" font-size="22.6" text-anchor="start" >Syneresis rate</text>
<line x1="517.20" y1="38.90" x2="535.10" y2="38.90" stroke="#c424a6" stroke-width="1.2"/>
<line x1="548.50" y1="38.90" x2="570.00" y2="38.90" stroke="#c424a6" stroke-width="1.2"/>
<polygon points="536.40,38.90 547.20,32.90 547.20,44.90" fill="#e010c0"/>
<text x="576.30" y="46.30" fill="#000" stroke="#000" stroke-width="0.22" font-size="22.6" text-anchor="start" >Transparency</text>
<line x1="133.60" y1="1106.10" x2="659.00" y2="1106.10" stroke="#000" stroke-width="1.8"/>
<line x1="134.50" y1="1106.10" x2="134.50" y2="1113.70" stroke="#000" stroke-width="1.8"/>
<line x1="229.70" y1="1106.10" x2="229.70" y2="1113.70" stroke="#000" stroke-width="1.8"/>
<line x1="324.90" y1="1106.10" x2="324.90" y2="1113.70" stroke="#000" stroke-width="1.8"/>
<line x1="420.10" y1="1106.10" x2="420.10" y2="1113.70" stroke="#000" stroke-width="1.8"/>
<line x1="515.30" y1="1106.10" x2="515.30" y2="1113.70" stroke="#000" stroke-width="1.8"/>
<line x1="610.50" y1="1106.10" x2="610.50" y2="1113.70" stroke="#000" stroke-width="1.8"/>
<line x1="182.10" y1="1106.10" x2="182.10" y2="1110.10" stroke="#000" stroke-width="1.8"/>
<line x1="277.30" y1="1106.10" x2="277.30" y2="1110.10" stroke="#000" stroke-width="1.8"/>
<line x1="372.50" y1="1106.10" x2="372.50" y2="1110.10" stroke="#000" stroke-width="1.8"/>
<line x1="467.70" y1="1106.10" x2="467.70" y2="1110.10" stroke="#000" stroke-width="1.8"/>
<line x1="562.90" y1="1106.10" x2="562.90" y2="1110.10" stroke="#000" stroke-width="1.8"/>
<line x1="658.10" y1="1106.10" x2="658.10" y2="1110.10" stroke="#000" stroke-width="1.8"/>
<text x="166.80" y="1133.60" fill="#000" stroke="#000" stroke-width="0.22" font-size="16.4" text-anchor="middle" >Native flour</text>
<text x="228.20" y="1135.40" fill="#000" stroke="#000" stroke-width="0.22" font-size="18.6" text-anchor="middle" >20</text>
<text x="326.50" y="1134.60" fill="#000" stroke="#000" stroke-width="0.22" font-size="18.6" text-anchor="middle" >40</text>
<text x="421.70" y="1132.80" fill="#000" stroke="#000" stroke-width="0.22" font-size="18.6" text-anchor="middle" >60</text>
<text x="517.00" y="1132.80" fill="#000" stroke="#000" stroke-width="0.22" font-size="18.6" text-anchor="middle" >80</text>
<text x="613.50" y="1132.50" fill="#000" stroke="#000" stroke-width="0.22" font-size="18.6" text-anchor="middle" >100</text>
<text x="396.60" y="1160.40" fill="#000" stroke="#000" stroke-width="0.22" font-size="20.3" text-anchor="middle" >Ultrasonic time (min)</text>
<line x1="134.50" y1="682.30" x2="134.50" y2="1107.00" stroke="#000000" stroke-width="1.8"/>
<line x1="134.50" y1="1106.10" x2="126.50" y2="1106.10" stroke="#000000" stroke-width="1.8"/>
<line x1="134.50" y1="1035.62" x2="126.50" y2="1035.62" stroke="#000000" stroke-width="1.8"/>
<line x1="134.50" y1="965.13" x2="126.50" y2="965.13" stroke="#000000" stroke-width="1.8"/>
<line x1="134.50" y1="894.65" x2="126.50" y2="894.65" stroke="#000000" stroke-width="1.8"/>
<line x1="134.50" y1="824.17" x2="126.50" y2="824.17" stroke="#000000" stroke-width="1.8"/>
<line x1="134.50" y1="753.68" x2="126.50" y2="753.68" stroke="#000000" stroke-width="1.8"/>
<line x1="134.50" y1="683.20" x2="126.50" y2="683.20" stroke="#000000" stroke-width="1.8"/>
<line x1="134.50" y1="1070.86" x2="130.50" y2="1070.86" stroke="#000000" stroke-width="1.8"/>
<line x1="134.50" y1="1000.38" x2="130.50" y2="1000.38" stroke="#000000" stroke-width="1.8"/>
<line x1="134.50" y1="929.89" x2="130.50" y2="929.89" stroke="#000000" stroke-width="1.8"/>
<line x1="134.50" y1="859.41" x2="130.50" y2="859.41" stroke="#000000" stroke-width="1.8"/>
<line x1="134.50" y1="788.92" x2="130.50" y2="788.92" stroke="#000000" stroke-width="1.8"/>
<line x1="134.50" y1="718.44" x2="130.50" y2="718.44" stroke="#000000" stroke-width="1.8"/>
<text x="121.00" y="1111.60" fill="#000000" stroke="#000000" stroke-width="0.22" font-size="16.8" text-anchor="end" >6.0</text>
<text x="121.00" y="1041.12" fill="#000000" stroke="#000000" stroke-width="0.22" font-size="16.8" text-anchor="end" >6.5</text>
<text x="121.00" y="970.63" fill="#000000" stroke="#000000" stroke-width="0.22" font-size="16.8" text-anchor="end" >7.0</text>
<text x="121.00" y="900.15" fill="#000000" stroke="#000000" stroke-width="0.22" font-size="16.8" text-anchor="end" >7.5</text>
<text x="121.00" y="829.67" fill="#000000" stroke="#000000" stroke-width="0.22" font-size="16.8" text-anchor="end" >8.0</text>
<text x="121.00" y="759.18" fill="#000000" stroke="#000000" stroke-width="0.22" font-size="16.8" text-anchor="end" >8.5</text>
<text x="121.00" y="688.70" fill="#000000" stroke="#000000" stroke-width="0.22" font-size="16.8" text-anchor="end" >9.0</text>
<line x1="92.50" y1="682.30" x2="92.50" y2="1107.00" stroke="#c8161e" stroke-width="1.8"/>
<line x1="92.50" y1="1106.10" x2="84.50" y2="1106.10" stroke="#c8161e" stroke-width="1.8"/>
<line x1="92.50" y1="1049.71" x2="84.50" y2="1049.71" stroke="#c8161e" stroke-width="1.8"/>
<line x1="92.50" y1="993.33" x2="84.50" y2="993.33" stroke="#c8161e" stroke-width="1.8"/>
<line x1="92.50" y1="936.94" x2="84.50" y2="936.94" stroke="#c8161e" stroke-width="1.8"/>
<line x1="92.50" y1="880.55" x2="84.50" y2="880.55" stroke="#c8161e" stroke-width="1.8"/>
<line x1="92.50" y1="824.17" x2="84.50" y2="824.17" stroke="#c8161e" stroke-width="1.8"/>
<line x1="92.50" y1="767.78" x2="84.50" y2="767.78" stroke="#c8161e" stroke-width="1.8"/>
<line x1="92.50" y1="711.39" x2="84.50" y2="711.39" stroke="#c8161e" stroke-width="1.8"/>
<line x1="92.50" y1="1077.91" x2="88.50" y2="1077.91" stroke="#c8161e" stroke-width="1.8"/>
<line x1="92.50" y1="1021.52" x2="88.50" y2="1021.52" stroke="#c8161e" stroke-width="1.8"/>
<line x1="92.50" y1="965.13" x2="88.50" y2="965.13" stroke="#c8161e" stroke-width="1.8"/>
<line x1="92.50" y1="908.75" x2="88.50" y2="908.75" stroke="#c8161e" stroke-width="1.8"/>
<line x1="92.50" y1="852.36" x2="88.50" y2="852.36" stroke="#c8161e" stroke-width="1.8"/>
<line x1="92.50" y1="795.97" x2="88.50" y2="795.97" stroke="#c8161e" stroke-width="1.8"/>
<line x1="92.50" y1="739.59" x2="88.50" y2="739.59" stroke="#c8161e" stroke-width="1.8"/>
<line x1="92.50" y1="683.20" x2="88.50" y2="683.20" stroke="#c8161e" stroke-width="1.8"/>
<text x="79.00" y="1111.60" fill="#bd1420" stroke="#bd1420" stroke-width="0.22" font-size="16.8" text-anchor="end" >0.0</text>
<text x="79.00" y="1055.21" fill="#bd1420" stroke="#bd1420" stroke-width="0.22" font-size="16.8" text-anchor="end" >0.4</text>
<text x="79.00" y="998.83" fill="#bd1420" stroke="#bd1420" stroke-width="0.22" font-size="16.8" text-anchor="end" >0.8</text>
<text x="79.00" y="942.44" fill="#bd1420" stroke="#bd1420" stroke-width="0.22" font-size="16.8" text-anchor="end" >1.2</text>
<text x="79.00" y="886.05" fill="#bd1420" stroke="#bd1420" stroke-width="0.22" font-size="16.8" text-anchor="end" >1.6</text>
<text x="79.00" y="829.67" fill="#bd1420" stroke="#bd1420" stroke-width="0.22" font-size="16.8" text-anchor="end" >2.0</text>
<text x="79.00" y="773.28" fill="#bd1420" stroke="#bd1420" stroke-width="0.22" font-size="16.8" text-anchor="end" >2.4</text>
<text x="79.00" y="716.89" fill="#bd1420" stroke="#bd1420" stroke-width="0.22" font-size="16.8" text-anchor="end" >2.8</text>
<line x1="45.70" y1="682.30" x2="45.70" y2="1107.00" stroke="#5a1496" stroke-width="1.8"/>
<line x1="45.70" y1="1092.00" x2="37.70" y2="1092.00" stroke="#5a1496" stroke-width="1.8"/>
<line x1="45.70" y1="1035.62" x2="37.70" y2="1035.62" stroke="#5a1496" stroke-width="1.8"/>
<line x1="45.70" y1="979.23" x2="37.70" y2="979.23" stroke="#5a1496" stroke-width="1.8"/>
<line x1="45.70" y1="922.84" x2="37.70" y2="922.84" stroke="#5a1496" stroke-width="1.8"/>
<line x1="45.70" y1="866.46" x2="37.70" y2="866.46" stroke="#5a1496" stroke-width="1.8"/>
<line x1="45.70" y1="810.07" x2="37.70" y2="810.07" stroke="#5a1496" stroke-width="1.8"/>
<line x1="45.70" y1="753.68" x2="37.70" y2="753.68" stroke="#5a1496" stroke-width="1.8"/>
<line x1="45.70" y1="697.30" x2="37.70" y2="697.30" stroke="#5a1496" stroke-width="1.8"/>
<line x1="45.70" y1="1063.81" x2="41.70" y2="1063.81" stroke="#5a1496" stroke-width="1.8"/>
<line x1="45.70" y1="1007.42" x2="41.70" y2="1007.42" stroke="#5a1496" stroke-width="1.8"/>
<line x1="45.70" y1="951.04" x2="41.70" y2="951.04" stroke="#5a1496" stroke-width="1.8"/>
<line x1="45.70" y1="894.65" x2="41.70" y2="894.65" stroke="#5a1496" stroke-width="1.8"/>
<line x1="45.70" y1="838.26" x2="41.70" y2="838.26" stroke="#5a1496" stroke-width="1.8"/>
<line x1="45.70" y1="781.88" x2="41.70" y2="781.88" stroke="#5a1496" stroke-width="1.8"/>
<line x1="45.70" y1="725.49" x2="41.70" y2="725.49" stroke="#5a1496" stroke-width="1.8"/>
<text x="32.00" y="1097.50" fill="#501488" stroke="#501488" stroke-width="0.22" font-size="16.8" text-anchor="end" >8</text>
<text x="32.00" y="1041.12" fill="#501488" stroke="#501488" stroke-width="0.22" font-size="16.8" text-anchor="end" >10</text>
<text x="32.00" y="984.73" fill="#501488" stroke="#501488" stroke-width="0.22" font-size="16.8" text-anchor="end" >12</text>
<text x="32.00" y="928.34" fill="#501488" stroke="#501488" stroke-width="0.22" font-size="16.8" text-anchor="end" >14</text>
<text x="32.00" y="871.96" fill="#501488" stroke="#501488" stroke-width="0.22" font-size="16.8" text-anchor="end" >16</text>
<text x="32.00" y="815.57" fill="#501488" stroke="#501488" stroke-width="0.22" font-size="16.8" text-anchor="end" >18</text>
<text x="32.00" y="759.18" fill="#501488" stroke="#501488" stroke-width="0.22" font-size="16.8" text-anchor="end" >20</text>
<text x="32.00" y="702.80" fill="#501488" stroke="#501488" stroke-width="0.22" font-size="16.8" text-anchor="end" >22</text>
<line x1="658.50" y1="682.30" x2="658.50" y2="1107.00" stroke="#12128e" stroke-width="1.8"/>
<line x1="658.50" y1="1106.10" x2="666.50" y2="1106.10" stroke="#12128e" stroke-width="1.8"/>
<line x1="658.50" y1="1000.38" x2="666.50" y2="1000.38" stroke="#12128e" stroke-width="1.8"/>
<line x1="658.50" y1="894.65" x2="666.50" y2="894.65" stroke="#12128e" stroke-width="1.8"/>
<line x1="658.50" y1="788.92" x2="666.50" y2="788.92" stroke="#12128e" stroke-width="1.8"/>
<line x1="658.50" y1="683.20" x2="666.50" y2="683.20" stroke="#12128e" stroke-width="1.8"/>
<line x1="658.50" y1="1053.24" x2="662.50" y2="1053.24" stroke="#12128e" stroke-width="1.8"/>
<line x1="658.50" y1="947.51" x2="662.50" y2="947.51" stroke="#12128e" stroke-width="1.8"/>
<line x1="658.50" y1="841.79" x2="662.50" y2="841.79" stroke="#12128e" stroke-width="1.8"/>
<line x1="658.50" y1="736.06" x2="662.50" y2="736.06" stroke="#12128e" stroke-width="1.8"/>
<text x="672.30" y="1111.60" fill="#12127c" stroke="#12127c" stroke-width="0.22" font-size="16.8" text-anchor="start" >12</text>
<text x="672.30" y="1005.88" fill="#12127c" stroke="#12127c" stroke-width="0.22" font-size="16.8" text-anchor="start" >13</text>
<text x="672.30" y="900.15" fill="#12127c" stroke="#12127c" stroke-width="0.22" font-size="16.8" text-anchor="start" >14</text>
<text x="672.30" y="794.42" fill="#12127c" stroke="#12127c" stroke-width="0.22" font-size="16.8" text-anchor="start" >15</text>
<text x="672.30" y="688.70" fill="#12127c" stroke="#12127c" stroke-width="0.22" font-size="16.8" text-anchor="start" >16</text>
<line x1="700.60" y1="682.30" x2="700.60" y2="1107.00" stroke="#1a98ad" stroke-width="1.8"/>
<line x1="700.60" y1="1106.10" x2="708.60" y2="1106.10" stroke="#1a98ad" stroke-width="1.8"/>
<line x1="700.60" y1="1000.37" x2="708.60" y2="1000.37" stroke="#1a98ad" stroke-width="1.8"/>
<line x1="700.60" y1="894.65" x2="708.60" y2="894.65" stroke="#1a98ad" stroke-width="1.8"/>
<line x1="700.60" y1="788.92" x2="708.60" y2="788.92" stroke="#1a98ad" stroke-width="1.8"/>
<line x1="700.60" y1="683.20" x2="708.60" y2="683.20" stroke="#1a98ad" stroke-width="1.8"/>
<line x1="700.60" y1="1053.24" x2="704.60" y2="1053.24" stroke="#1a98ad" stroke-width="1.8"/>
<line x1="700.60" y1="947.51" x2="704.60" y2="947.51" stroke="#1a98ad" stroke-width="1.8"/>
<line x1="700.60" y1="841.79" x2="704.60" y2="841.79" stroke="#1a98ad" stroke-width="1.8"/>
<line x1="700.60" y1="736.06" x2="704.60" y2="736.06" stroke="#1a98ad" stroke-width="1.8"/>
<text x="713.20" y="1111.60" fill="#188a9c" stroke="#188a9c" stroke-width="0.22" font-size="16.8" text-anchor="start" >0.3</text>
<text x="713.20" y="1005.87" fill="#188a9c" stroke="#188a9c" stroke-width="0.22" font-size="16.8" text-anchor="start" >0.4</text>
<text x="713.20" y="900.15" fill="#188a9c" stroke="#188a9c" stroke-width="0.22" font-size="16.8" text-anchor="start" >0.5</text>
<text x="713.20" y="794.42" fill="#188a9c" stroke="#188a9c" stroke-width="0.22" font-size="16.8" text-anchor="start" >0.6</text>
<text x="713.20" y="688.70" fill="#188a9c" stroke="#188a9c" stroke-width="0.22" font-size="16.8" text-anchor="start" >0.7</text>
<line x1="748.00" y1="682.30" x2="748.00" y2="1107.00" stroke="#d21ab4" stroke-width="1.8"/>
<line x1="748.00" y1="1083.84" x2="756.00" y2="1083.84" stroke="#d21ab4" stroke-width="1.8"/>
<line x1="748.00" y1="1039.33" x2="756.00" y2="1039.33" stroke="#d21ab4" stroke-width="1.8"/>
<line x1="748.00" y1="994.81" x2="756.00" y2="994.81" stroke="#d21ab4" stroke-width="1.8"/>
<line x1="748.00" y1="950.29" x2="756.00" y2="950.29" stroke="#d21ab4" stroke-width="1.8"/>
<line x1="748.00" y1="905.78" x2="756.00" y2="905.78" stroke="#d21ab4" stroke-width="1.8"/>
<line x1="748.00" y1="861.26" x2="756.00" y2="861.26" stroke="#d21ab4" stroke-width="1.8"/>
<line x1="748.00" y1="816.75" x2="756.00" y2="816.75" stroke="#d21ab4" stroke-width="1.8"/>
<line x1="748.00" y1="772.23" x2="756.00" y2="772.23" stroke="#d21ab4" stroke-width="1.8"/>
<line x1="748.00" y1="727.72" x2="756.00" y2="727.72" stroke="#d21ab4" stroke-width="1.8"/>
<line x1="748.00" y1="683.20" x2="756.00" y2="683.20" stroke="#d21ab4" stroke-width="1.8"/>
<line x1="748.00" y1="1106.10" x2="752.00" y2="1106.10" stroke="#d21ab4" stroke-width="1.8"/>
<line x1="748.00" y1="1061.58" x2="752.00" y2="1061.58" stroke="#d21ab4" stroke-width="1.8"/>
<line x1="748.00" y1="1017.07" x2="752.00" y2="1017.07" stroke="#d21ab4" stroke-width="1.8"/>
<line x1="748.00" y1="972.55" x2="752.00" y2="972.55" stroke="#d21ab4" stroke-width="1.8"/>
<line x1="748.00" y1="928.04" x2="752.00" y2="928.04" stroke="#d21ab4" stroke-width="1.8"/>
<line x1="748.00" y1="883.52" x2="752.00" y2="883.52" stroke="#d21ab4" stroke-width="1.8"/>
<line x1="748.00" y1="839.01" x2="752.00" y2="839.01" stroke="#d21ab4" stroke-width="1.8"/>
<line x1="748.00" y1="794.49" x2="752.00" y2="794.49" stroke="#d21ab4" stroke-width="1.8"/>
<line x1="748.00" y1="749.97" x2="752.00" y2="749.97" stroke="#d21ab4" stroke-width="1.8"/>
<line x1="748.00" y1="705.46" x2="752.00" y2="705.46" stroke="#d21ab4" stroke-width="1.8"/>
<text x="761.00" y="1089.34" fill="#c0189a" stroke="#c0189a" stroke-width="0.22" font-size="16.8" text-anchor="start" >70</text>
<text x="761.00" y="1044.83" fill="#c0189a" stroke="#c0189a" stroke-width="0.22" font-size="16.8" text-anchor="start" >72</text>
<text x="761.00" y="1000.31" fill="#c0189a" stroke="#c0189a" stroke-width="0.22" font-size="16.8" text-anchor="start" >74</text>
<text x="761.00" y="955.79" fill="#c0189a" stroke="#c0189a" stroke-width="0.22" font-size="16.8" text-anchor="start" >76</text>
<text x="761.00" y="911.28" fill="#c0189a" stroke="#c0189a" stroke-width="0.22" font-size="16.8" text-anchor="start" >78</text>
<text x="761.00" y="866.76" fill="#c0189a" stroke="#c0189a" stroke-width="0.22" font-size="16.8" text-anchor="start" >80</text>
<text x="761.00" y="822.25" fill="#c0189a" stroke="#c0189a" stroke-width="0.22" font-size="16.8" text-anchor="start" >82</text>
<text x="761.00" y="777.73" fill="#c0189a" stroke="#c0189a" stroke-width="0.22" font-size="16.8" text-anchor="start" >84</text>
<text x="761.00" y="733.22" fill="#c0189a" stroke="#c0189a" stroke-width="0.22" font-size="16.8" text-anchor="start" >86</text>
<text x="761.00" y="688.70" fill="#c0189a" stroke="#c0189a" stroke-width="0.22" font-size="16.8" text-anchor="start" >88</text>
<line x1="184.38" y1="767.41" x2="227.12" y2="860.69" stroke="#000000" stroke-width="1.15"/>
<line x1="235.12" y1="866.66" x2="319.48" y2="875.24" stroke="#000000" stroke-width="1.15"/>
<line x1="330.52" y1="876.35" x2="414.78" y2="884.75" stroke="#000000" stroke-width="1.15"/>
<line x1="425.82" y1="885.38" x2="509.88" y2="886.52" stroke="#000000" stroke-width="1.15"/>
<line x1="520.92" y1="886.95" x2="605.18" y2="892.25" stroke="#000000" stroke-width="1.15"/>
<line x1="181.90" y1="752.00" x2="181.90" y2="772.00" stroke="#000000" stroke-width="1.0"/>
<line x1="177.70" y1="752.00" x2="186.10" y2="752.00" stroke="#000000" stroke-width="1.3"/>
<line x1="177.70" y1="772.00" x2="186.10" y2="772.00" stroke="#000000" stroke-width="1.3"/>
<line x1="229.60" y1="843.40" x2="229.60" y2="888.80" stroke="#000000" stroke-width="1.0"/>
<line x1="225.40" y1="843.40" x2="233.80" y2="843.40" stroke="#000000" stroke-width="1.3"/>
<line x1="225.40" y1="888.80" x2="233.80" y2="888.80" stroke="#000000" stroke-width="1.3"/>
<line x1="325.00" y1="856.80" x2="325.00" y2="894.80" stroke="#000000" stroke-width="1.0"/>
<line x1="320.80" y1="856.80" x2="329.20" y2="856.80" stroke="#000000" stroke-width="1.3"/>
<line x1="320.80" y1="894.80" x2="329.20" y2="894.80" stroke="#000000" stroke-width="1.3"/>
<line x1="420.30" y1="866.30" x2="420.30" y2="904.30" stroke="#000000" stroke-width="1.0"/>
<line x1="416.10" y1="866.30" x2="424.50" y2="866.30" stroke="#000000" stroke-width="1.3"/>
<line x1="416.10" y1="904.30" x2="424.50" y2="904.30" stroke="#000000" stroke-width="1.3"/>
<line x1="515.40" y1="852.40" x2="515.40" y2="920.80" stroke="#000000" stroke-width="1.0"/>
<line x1="511.20" y1="852.40" x2="519.60" y2="852.40" stroke="#000000" stroke-width="1.3"/>
<line x1="511.20" y1="920.80" x2="519.60" y2="920.80" stroke="#000000" stroke-width="1.3"/>
<line x1="610.70" y1="862.20" x2="610.70" y2="923.00" stroke="#000000" stroke-width="1.0"/>
<line x1="606.50" y1="862.20" x2="614.90" y2="862.20" stroke="#000000" stroke-width="1.3"/>
<line x1="606.50" y1="923.00" x2="614.90" y2="923.00" stroke="#000000" stroke-width="1.3"/>
<rect x="177.68" y="757.78" width="8.45" height="8.45" fill="#000000"/>
<rect x="225.38" y="861.88" width="8.45" height="8.45" fill="#000000"/>
<rect x="320.78" y="871.58" width="8.45" height="8.45" fill="#000000"/>
<rect x="416.08" y="881.08" width="8.45" height="8.45" fill="#000000"/>
<rect x="511.18" y="882.38" width="8.45" height="8.45" fill="#000000"/>
<rect x="606.48" y="888.38" width="8.45" height="8.45" fill="#000000"/>
<line x1="186.83" y1="782.91" x2="224.67" y2="815.29" stroke="#b82a2a" stroke-width="1.15"/>
<line x1="235.90" y1="821.02" x2="318.70" y2="840.98" stroke="#b82a2a" stroke-width="1.15"/>
<line x1="331.12" y1="844.63" x2="414.18" y2="873.57" stroke="#b82a2a" stroke-width="1.15"/>
<line x1="426.59" y1="877.26" x2="509.11" y2="897.64" stroke="#b82a2a" stroke-width="1.15"/>
<line x1="521.85" y1="899.84" x2="604.25" y2="908.06" stroke="#b82a2a" stroke-width="1.15"/>
<line x1="181.90" y1="765.90" x2="181.90" y2="791.50" stroke="#c01a22" stroke-width="1.0"/>
<line x1="177.70" y1="765.90" x2="186.10" y2="765.90" stroke="#c01a22" stroke-width="1.3"/>
<line x1="177.70" y1="791.50" x2="186.10" y2="791.50" stroke="#c01a22" stroke-width="1.3"/>
<line x1="229.60" y1="800.30" x2="229.60" y2="838.70" stroke="#c01a22" stroke-width="1.0"/>
<line x1="225.40" y1="800.30" x2="233.80" y2="800.30" stroke="#c01a22" stroke-width="1.3"/>
<line x1="225.40" y1="838.70" x2="233.80" y2="838.70" stroke="#c01a22" stroke-width="1.3"/>
<line x1="325.00" y1="836.00" x2="325.00" y2="849.00" stroke="#c01a22" stroke-width="1.0"/>
<line x1="320.80" y1="836.00" x2="329.20" y2="836.00" stroke="#c01a22" stroke-width="1.3"/>
<line x1="320.80" y1="849.00" x2="329.20" y2="849.00" stroke="#c01a22" stroke-width="1.3"/>
<line x1="420.30" y1="862.50" x2="420.30" y2="888.90" stroke="#c01a22" stroke-width="1.0"/>
<line x1="416.10" y1="862.50" x2="424.50" y2="862.50" stroke="#c01a22" stroke-width="1.3"/>
<line x1="416.10" y1="888.90" x2="424.50" y2="888.90" stroke="#c01a22" stroke-width="1.3"/>
<line x1="515.40" y1="881.00" x2="515.40" y2="917.40" stroke="#c01a22" stroke-width="1.0"/>
<line x1="511.20" y1="881.00" x2="519.60" y2="881.00" stroke="#c01a22" stroke-width="1.3"/>
<line x1="511.20" y1="917.40" x2="519.60" y2="917.40" stroke="#c01a22" stroke-width="1.3"/>
<line x1="610.70" y1="894.70" x2="610.70" y2="922.70" stroke="#c01a22" stroke-width="1.0"/>
<line x1="606.50" y1="894.70" x2="614.90" y2="894.70" stroke="#c01a22" stroke-width="1.3"/>
<line x1="606.50" y1="922.70" x2="614.90" y2="922.70" stroke="#c01a22" stroke-width="1.3"/>
<circle cx="181.90" cy="778.70" r="5.18" fill="#f70000"/>
<circle cx="229.60" cy="819.50" r="5.18" fill="#f70000"/>
<circle cx="325.00" cy="842.50" r="5.18" fill="#f70000"/>
<circle cx="420.30" cy="875.70" r="5.18" fill="#f70000"/>
<circle cx="515.40" cy="899.20" r="5.18" fill="#f70000"/>
<circle cx="610.70" cy="908.70" r="5.18" fill="#f70000"/>
<line x1="187.18" y1="904.40" x2="224.72" y2="907.59" stroke="#4e2490" stroke-width="1.15"/>
<line x1="234.82" y1="908.31" x2="320.06" y2="913.31" stroke="#4e2490" stroke-width="1.15"/>
<line x1="329.68" y1="912.76" x2="414.78" y2="897.58" stroke="#4e2490" stroke-width="1.15"/>
<line x1="425.22" y1="896.26" x2="510.16" y2="890.36" stroke="#4e2490" stroke-width="1.15"/>
<line x1="520.32" y1="889.66" x2="605.46" y2="883.76" stroke="#4e2490" stroke-width="1.15"/>
<line x1="181.90" y1="898.00" x2="181.90" y2="909.90" stroke="#552090" stroke-width="1.0"/>
<line x1="177.70" y1="898.00" x2="186.10" y2="898.00" stroke="#552090" stroke-width="1.3"/>
<line x1="177.70" y1="909.90" x2="186.10" y2="909.90" stroke="#552090" stroke-width="1.3"/>
<line x1="229.60" y1="895.10" x2="229.60" y2="920.90" stroke="#552090" stroke-width="1.0"/>
<line x1="225.40" y1="895.10" x2="233.80" y2="895.10" stroke="#552090" stroke-width="1.3"/>
<line x1="225.40" y1="920.90" x2="233.80" y2="920.90" stroke="#552090" stroke-width="1.3"/>
<line x1="325.00" y1="900.50" x2="325.00" y2="926.70" stroke="#552090" stroke-width="1.0"/>
<line x1="320.80" y1="900.50" x2="329.20" y2="900.50" stroke="#552090" stroke-width="1.3"/>
<line x1="320.80" y1="926.70" x2="329.20" y2="926.70" stroke="#552090" stroke-width="1.3"/>
<line x1="420.30" y1="880.80" x2="420.30" y2="912.40" stroke="#552090" stroke-width="1.0"/>
<line x1="416.10" y1="880.80" x2="424.50" y2="880.80" stroke="#552090" stroke-width="1.3"/>
<line x1="416.10" y1="912.40" x2="424.50" y2="912.40" stroke="#552090" stroke-width="1.3"/>
<line x1="515.40" y1="873.70" x2="515.40" y2="906.30" stroke="#552090" stroke-width="1.0"/>
<line x1="511.20" y1="873.70" x2="519.60" y2="873.70" stroke="#552090" stroke-width="1.3"/>
<line x1="511.20" y1="906.30" x2="519.60" y2="906.30" stroke="#552090" stroke-width="1.3"/>
<line x1="610.70" y1="868.50" x2="610.70" y2="898.30" stroke="#552090" stroke-width="1.0"/>
<line x1="606.50" y1="868.50" x2="614.90" y2="868.50" stroke="#552090" stroke-width="1.3"/>
<line x1="606.50" y1="898.30" x2="614.90" y2="898.30" stroke="#552090" stroke-width="1.3"/>
<polygon points="181.90,897.81 187.56,907.02 176.24,907.02" fill="#6010c8"/>
<polygon points="229.60,901.86 235.26,911.07 223.94,911.07" fill="#6010c8"/>
<polygon points="325.00,907.46 330.66,916.67 319.34,916.67" fill="#6010c8"/>
<polygon points="420.30,890.46 425.96,899.67 414.64,899.67" fill="#6010c8"/>
<polygon points="515.40,883.86 521.06,893.07 509.74,893.07" fill="#6010c8"/>
<polygon points="610.70,877.26 616.36,886.47 605.04,886.47" fill="#6010c8"/>
<line x1="187.25" y1="815.89" x2="224.78" y2="811.65" stroke="#28289a" stroke-width="1.15"/>
<line x1="234.94" y1="810.51" x2="320.17" y2="801.04" stroke="#28289a" stroke-width="1.15"/>
<line x1="330.19" y1="800.25" x2="415.33" y2="796.14" stroke="#28289a" stroke-width="1.15"/>
<line x1="426.50" y1="793.44" x2="511.16" y2="759.88" stroke="#28289a" stroke-width="1.15"/>
<line x1="520.58" y1="757.96" x2="605.73" y2="754.03" stroke="#28289a" stroke-width="1.15"/>
<line x1="181.90" y1="800.00" x2="181.90" y2="833.00" stroke="#14148a" stroke-width="1.0"/>
<line x1="177.70" y1="800.00" x2="186.10" y2="800.00" stroke="#14148a" stroke-width="1.3"/>
<line x1="177.70" y1="833.00" x2="186.10" y2="833.00" stroke="#14148a" stroke-width="1.3"/>
<line x1="229.60" y1="798.80" x2="229.60" y2="823.40" stroke="#14148a" stroke-width="1.0"/>
<line x1="225.40" y1="798.80" x2="233.80" y2="798.80" stroke="#14148a" stroke-width="1.3"/>
<line x1="225.40" y1="823.40" x2="233.80" y2="823.40" stroke="#14148a" stroke-width="1.3"/>
<line x1="325.00" y1="787.30" x2="325.00" y2="813.70" stroke="#14148a" stroke-width="1.0"/>
<line x1="320.80" y1="787.30" x2="329.20" y2="787.30" stroke="#14148a" stroke-width="1.3"/>
<line x1="320.80" y1="813.70" x2="329.20" y2="813.70" stroke="#14148a" stroke-width="1.3"/>
<line x1="420.30" y1="782.40" x2="420.30" y2="809.40" stroke="#14148a" stroke-width="1.0"/>
<line x1="416.10" y1="782.40" x2="424.50" y2="782.40" stroke="#14148a" stroke-width="1.3"/>
<line x1="416.10" y1="809.40" x2="424.50" y2="809.40" stroke="#14148a" stroke-width="1.3"/>
<line x1="515.40" y1="745.10" x2="515.40" y2="771.30" stroke="#14148a" stroke-width="1.0"/>
<line x1="511.20" y1="745.10" x2="519.60" y2="745.10" stroke="#14148a" stroke-width="1.3"/>
<line x1="511.20" y1="771.30" x2="519.60" y2="771.30" stroke="#14148a" stroke-width="1.3"/>
<line x1="610.70" y1="741.30" x2="610.70" y2="766.30" stroke="#14148a" stroke-width="1.0"/>
<line x1="606.50" y1="741.30" x2="614.90" y2="741.30" stroke="#14148a" stroke-width="1.3"/>
<line x1="606.50" y1="766.30" x2="614.90" y2="766.30" stroke="#14148a" stroke-width="1.3"/>
<polygon points="176.24,813.43 187.56,813.43 181.90,822.64" fill="#0a0acc"/>
<polygon points="223.94,808.03 235.26,808.03 229.60,817.24" fill="#0a0acc"/>
<polygon points="319.34,797.43 330.66,797.43 325.00,806.64" fill="#0a0acc"/>
<polygon points="414.64,792.83 425.96,792.83 420.30,802.04" fill="#0a0acc"/>
<polygon points="509.74,755.13 521.06,755.13 515.40,764.34" fill="#0a0acc"/>
<polygon points="605.04,750.73 616.36,750.73 610.70,759.94" fill="#0a0acc"/>
<line x1="184.19" y1="1054.94" x2="227.31" y2="952.46" stroke="#1f8290" stroke-width="1.15"/>
<line x1="233.04" y1="942.57" x2="321.56" y2="828.53" stroke="#1f8290" stroke-width="1.15"/>
<line x1="331.39" y1="822.93" x2="413.91" y2="807.77" stroke="#1f8290" stroke-width="1.15"/>
<line x1="426.50" y1="805.20" x2="509.20" y2="786.50" stroke="#1f8290" stroke-width="1.15"/>
<line x1="522.15" y1="784.36" x2="603.95" y2="775.44" stroke="#1f8290" stroke-width="1.15"/>
<line x1="181.90" y1="1054.30" x2="181.90" y2="1066.50" stroke="#1c8c9e" stroke-width="1.0"/>
<line x1="177.70" y1="1054.30" x2="186.10" y2="1054.30" stroke="#1c8c9e" stroke-width="1.3"/>
<line x1="177.70" y1="1066.50" x2="186.10" y2="1066.50" stroke="#1c8c9e" stroke-width="1.3"/>
<line x1="229.60" y1="932.30" x2="229.60" y2="961.70" stroke="#1c8c9e" stroke-width="1.0"/>
<line x1="225.40" y1="932.30" x2="233.80" y2="932.30" stroke="#1c8c9e" stroke-width="1.3"/>
<line x1="225.40" y1="961.70" x2="233.80" y2="961.70" stroke="#1c8c9e" stroke-width="1.3"/>
<line x1="325.00" y1="818.30" x2="325.00" y2="829.90" stroke="#1c8c9e" stroke-width="1.0"/>
<line x1="320.80" y1="818.30" x2="329.20" y2="818.30" stroke="#1c8c9e" stroke-width="1.3"/>
<line x1="320.80" y1="829.90" x2="329.20" y2="829.90" stroke="#1c8c9e" stroke-width="1.3"/>
<line x1="420.30" y1="800.60" x2="420.30" y2="812.60" stroke="#1c8c9e" stroke-width="1.0"/>
<line x1="416.10" y1="800.60" x2="424.50" y2="800.60" stroke="#1c8c9e" stroke-width="1.3"/>
<line x1="416.10" y1="812.60" x2="424.50" y2="812.60" stroke="#1c8c9e" stroke-width="1.3"/>
<line x1="515.40" y1="779.40" x2="515.40" y2="790.80" stroke="#1c8c9e" stroke-width="1.0"/>
<line x1="511.20" y1="779.40" x2="519.60" y2="779.40" stroke="#1c8c9e" stroke-width="1.3"/>
<line x1="511.20" y1="790.80" x2="519.60" y2="790.80" stroke="#1c8c9e" stroke-width="1.3"/>
<line x1="610.70" y1="768.70" x2="610.70" y2="780.70" stroke="#1c8c9e" stroke-width="1.0"/>
<line x1="606.50" y1="768.70" x2="614.90" y2="768.70" stroke="#1c8c9e" stroke-width="1.3"/>
<line x1="606.50" y1="780.70" x2="614.90" y2="780.70" stroke="#1c8c9e" stroke-width="1.3"/>
<polygon points="181.90,1054.35 187.95,1060.40 181.90,1066.45 175.85,1060.40" fill="#1590b8"/>
<polygon points="229.60,940.95 235.65,947.00 229.60,953.05 223.55,947.00" fill="#1590b8"/>
<polygon points="325.00,818.05 331.05,824.10 325.00,830.15 318.95,824.10" fill="#1590b8"/>
<polygon points="420.30,800.55 426.35,806.60 420.30,812.65 414.25,806.60" fill="#1590b8"/>
<polygon points="515.40,779.05 521.45,785.10 515.40,791.15 509.35,785.10" fill="#1590b8"/>
<polygon points="610.70,768.65 616.75,774.70 610.70,780.75 604.65,774.70" fill="#1590b8"/>
<line x1="184.85" y1="1054.04" x2="227.63" y2="962.03" stroke="#a42a92" stroke-width="1.15"/>
<line x1="233.99" y1="953.51" x2="321.57" y2="867.86" stroke="#a42a92" stroke-width="1.15"/>
<line x1="329.67" y1="862.71" x2="415.00" y2="829.94" stroke="#a42a92" stroke-width="1.15"/>
<line x1="425.06" y1="827.74" x2="507.58" y2="824.96" stroke="#a42a92" stroke-width="1.15"/>
<line x1="520.14" y1="824.04" x2="603.88" y2="812.44" stroke="#a42a92" stroke-width="1.15"/>
<line x1="181.90" y1="1050.15" x2="181.90" y2="1070.65" stroke="#b8249c" stroke-width="1.0"/>
<line x1="177.70" y1="1050.15" x2="186.10" y2="1050.15" stroke="#b8249c" stroke-width="1.3"/>
<line x1="177.70" y1="1070.65" x2="186.10" y2="1070.65" stroke="#b8249c" stroke-width="1.3"/>
<line x1="229.60" y1="932.60" x2="229.60" y2="983.00" stroke="#b8249c" stroke-width="1.0"/>
<line x1="225.40" y1="932.60" x2="233.80" y2="932.60" stroke="#b8249c" stroke-width="1.3"/>
<line x1="225.40" y1="983.00" x2="233.80" y2="983.00" stroke="#b8249c" stroke-width="1.3"/>
<line x1="325.00" y1="832.50" x2="325.00" y2="896.50" stroke="#b8249c" stroke-width="1.0"/>
<line x1="320.80" y1="832.50" x2="329.20" y2="832.50" stroke="#b8249c" stroke-width="1.3"/>
<line x1="320.80" y1="896.50" x2="329.20" y2="896.50" stroke="#b8249c" stroke-width="1.3"/>
<line x1="420.30" y1="801.60" x2="420.30" y2="854.20" stroke="#b8249c" stroke-width="1.0"/>
<line x1="416.10" y1="801.60" x2="424.50" y2="801.60" stroke="#b8249c" stroke-width="1.3"/>
<line x1="416.10" y1="854.20" x2="424.50" y2="854.20" stroke="#b8249c" stroke-width="1.3"/>
<line x1="515.40" y1="796.40" x2="515.40" y2="853.00" stroke="#b8249c" stroke-width="1.0"/>
<line x1="511.20" y1="796.40" x2="519.60" y2="796.40" stroke="#b8249c" stroke-width="1.3"/>
<line x1="511.20" y1="853.00" x2="519.60" y2="853.00" stroke="#b8249c" stroke-width="1.3"/>
<line x1="610.70" y1="786.10" x2="610.70" y2="836.90" stroke="#b8249c" stroke-width="1.0"/>
<line x1="606.50" y1="786.10" x2="614.90" y2="786.10" stroke="#b8249c" stroke-width="1.3"/>
<line x1="606.50" y1="836.90" x2="614.90" y2="836.90" stroke="#b8249c" stroke-width="1.3"/>
<polygon points="174.99,1060.40 185.36,1054.64 185.36,1066.16" fill="#e010c0"/>
<polygon points="222.69,957.80 233.06,952.04 233.06,963.56" fill="#e010c0"/>
<polygon points="318.09,864.50 328.46,858.74 328.46,870.26" fill="#e010c0"/>
<polygon points="413.39,827.90 423.76,822.14 423.76,833.66" fill="#e010c0"/>
<polygon points="508.49,824.70 518.86,818.94 518.86,830.46" fill="#e010c0"/>
<polygon points="603.79,811.50 614.16,805.74 614.16,817.26" fill="#e010c0"/>
<text x="37.00" y="645.30" fill="#000" stroke="#000" stroke-width="0.22" font-size="31.5" text-anchor="start" >B</text>
<line x1="122.60" y1="634.70" x2="142.45" y2="634.70" stroke="#000000" stroke-width="1.2"/>
<line x1="153.85" y1="634.70" x2="173.70" y2="634.70" stroke="#000000" stroke-width="1.2"/>
<rect x="143.75" y="630.30" width="8.80" height="8.80" fill="#000000"/>
<text x="179.00" y="642.10" fill="#000" stroke="#000" stroke-width="0.22" font-size="22.1" text-anchor="start" >Blue value</text>
<line x1="272.70" y1="634.70" x2="291.55" y2="634.70" stroke="#cc2424" stroke-width="1.2"/>
<line x1="304.95" y1="634.70" x2="323.80" y2="634.70" stroke="#cc2424" stroke-width="1.2"/>
<circle cx="298.25" cy="634.70" r="5.40" fill="#f70000"/>
<text x="329.80" y="642.10" fill="#000" stroke="#000" stroke-width="0.22" font-size="22.1" text-anchor="start" >Oil holding capacity</text>
<line x1="508.60" y1="634.70" x2="528.57" y2="634.70" stroke="#5a229c" stroke-width="1.2"/>
<line x1="539.03" y1="634.70" x2="559.00" y2="634.70" stroke="#5a229c" stroke-width="1.2"/>
<polygon points="533.80,628.30 539.70,637.90 527.90,637.90" fill="#6010c8"/>
<text x="565.60" y="642.10" fill="#000" stroke="#000" stroke-width="0.22" font-size="22.1" text-anchor="start" >Water solubility</text>
<line x1="122.60" y1="662.50" x2="142.92" y2="662.50" stroke="#1c1c98" stroke-width="1.2"/>
<line x1="153.38" y1="662.50" x2="173.70" y2="662.50" stroke="#1c1c98" stroke-width="1.2"/>
<polygon points="142.25,659.30 154.05,659.30 148.15,668.90" fill="#0a0acc"/>
<text x="179.00" y="669.90" fill="#000" stroke="#000" stroke-width="0.22" font-size="22.1" text-anchor="start" >Swelling power</text>
<line x1="316.70" y1="662.50" x2="334.05" y2="662.50" stroke="#2298aa" stroke-width="1.2"/>
<line x1="349.25" y1="662.50" x2="366.60" y2="662.50" stroke="#2298aa" stroke-width="1.2"/>
<polygon points="341.65,656.20 347.95,662.50 341.65,668.80 335.35,662.50" fill="#1590b8"/>
<text x="372.90" y="669.90" fill="#000" stroke="#000" stroke-width="0.22" font-size="22.1" text-anchor="start" >Syneresis rate</text>
<line x1="494.60" y1="662.50" x2="511.30" y2="662.50" stroke="#c424a6" stroke-width="1.2"/>
<line x1="524.70" y1="662.50" x2="545.00" y2="662.50" stroke="#c424a6" stroke-width="1.2"/>
<polygon points="512.60,662.50 523.40,656.50 523.40,668.50" fill="#e010c0"/>
<text x="551.60" y="669.90" fill="#000" stroke="#000" stroke-width="0.22" font-size="22.1" text-anchor="start" >Transparency</text>
</g></svg>
</body></html>
